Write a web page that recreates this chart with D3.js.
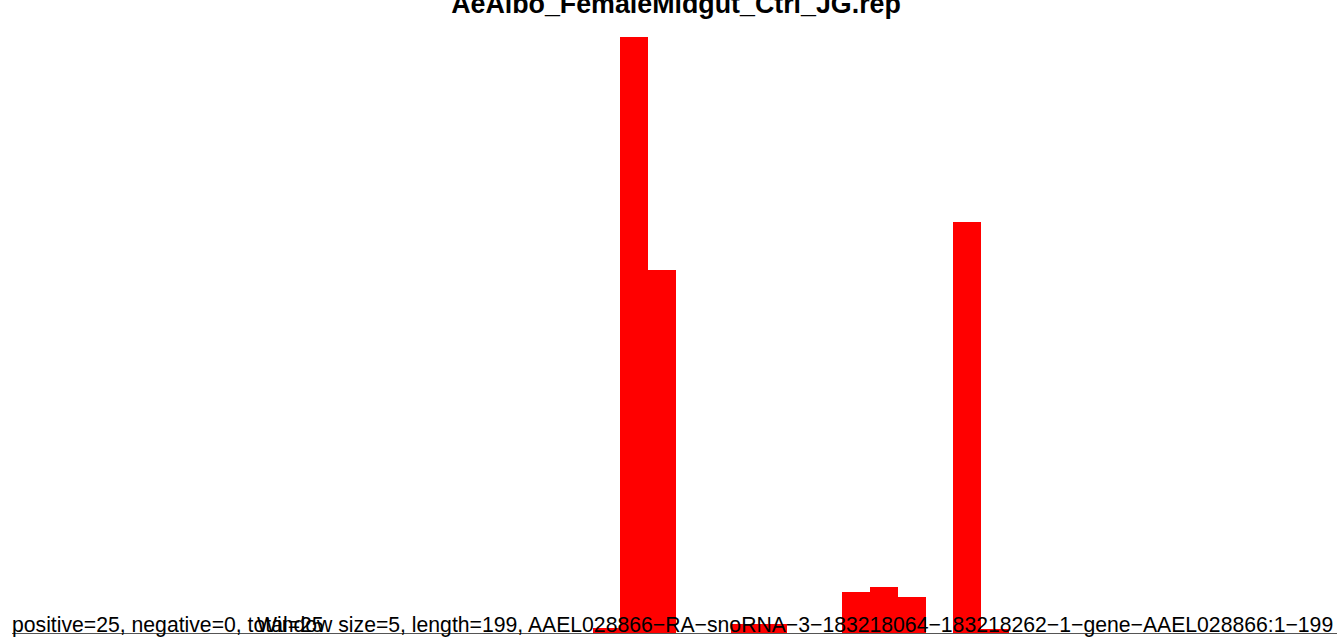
<!DOCTYPE html>
<html>
<head>
<meta charset="utf-8">
<script src="https://cdn.jsdelivr.net/npm/d3@7"></script>
<style>
  html, body { margin: 0; padding: 0; background: #fff; }
  svg { display: block; }
</style>
</head>
<body>
<svg id="chart" width="1337" height="639"></svg>
<script>
const titleText = "AeAlbo_FemaleMidgut_Ctrl_JG.rep";
const summaryText = "positive=25, negative=0, total=25";
const infoText = "Window size=5, length=199, AAEL028866\u2212RA\u2212snoRNA\u22123\u2212183218064\u2212183218262\u22121\u2212gene\u2212AAEL028866:1\u2212199";
const windowSize = 5;
const binStarts = [105, 110, 115, 130, 135, 150, 155, 160, 170, 175];
const binValues = [0.8, 100, 60.9, 1.5, 1.5, 6.9, 7.7, 6.0, 69.0, 0.7];

const svg = d3.select("#chart");
const W = 1337, H = 639;
const font = "'Liberation Sans', Arial, Helvetica, sans-serif";

const x = d3.scaleLinear().domain([0, 237.3]).range([10, 1327]);
const y = d3.scaleLinear().domain([0, 100]).range([633, 37]);

// baseline
svg.append("line")
  .attr("x1", 12).attr("x2", W)
  .attr("y1", y(0) + 0.5).attr("y2", y(0) + 0.5)
  .attr("stroke", "#555").attr("stroke-width", 1);

svg.selectAll("rect.bar")
  .data(binStarts.map((s, i) => ({ s, v: binValues[i] })))
  .join("rect")
  .attr("class", "bar")
  .attr("x", d => x(d.s))
  .attr("width", d => x(d.s + windowSize) - x(d.s))
  .attr("y", d => y(d.v))
  .attr("height", d => y(0) - y(d.v))
  .attr("fill", "#ff0000")
  .attr("shape-rendering", "crispEdges");

svg.append("text")
  .attr("x", 676).attr("y", 13)
  .attr("text-anchor", "middle")
  .attr("font-family", font)
  .attr("font-weight", "bold")
  .attr("font-size", 26.8)
  .attr("fill", "#000")
  .text(titleText);

svg.append("text")
  .attr("x", 12).attr("y", 632)
  .attr("font-family", font)
  .attr("font-size", 21.2)
  .attr("fill", "#000")
  .text(summaryText);

svg.append("text")
  .attr("x", 257).attr("y", 632)
  .attr("font-family", font)
  .attr("font-size", 21.2)
  .attr("fill", "#000")
  .text(infoText);
</script>
</body>
</html>
